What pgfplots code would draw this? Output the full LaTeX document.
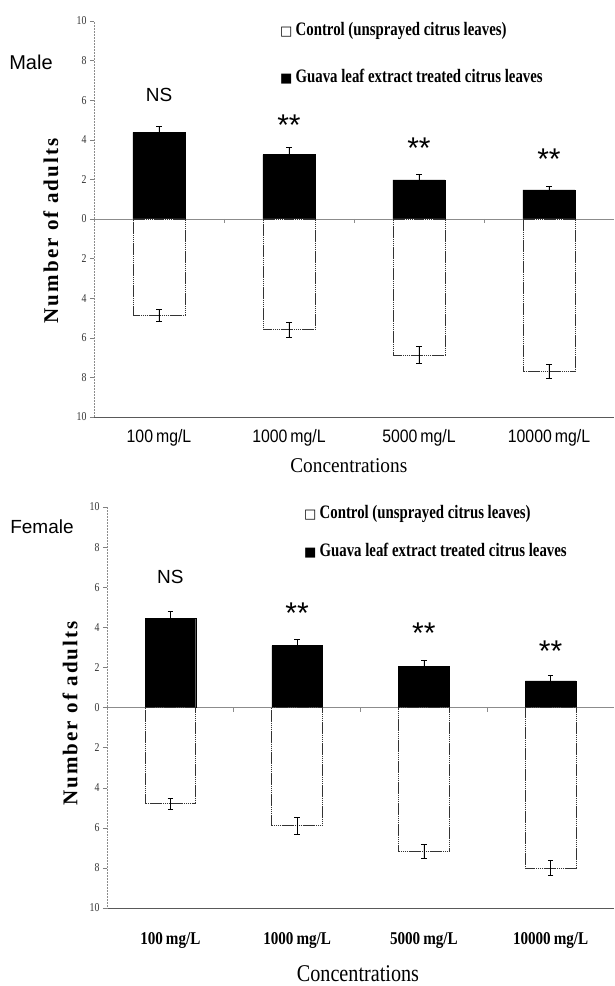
\documentclass[border=0pt]{standalone}
\usepackage{pgfplots}
\pgfplotsset{compat=1.18}
\usepackage{fontspec}
\setmainfont{Liberation Serif}
\newfontfamily\sansf{Liberation Sans}
\newfontfamily\sansc{Liberation Sans}[FakeStretch=0.88]
\newfontfamily\legf{Liberation Serif}[FakeStretch=0.78]
\newfontfamily\tickf{Liberation Serif}[FakeStretch=0.82]
\newfontfamily\labf{Liberation Serif}[FakeStretch=0.92]
\newfontfamily\labfb{Liberation Serif}[FakeStretch=0.84]
\newfontfamily\ylabf{Liberation Serif}[LetterSpace=10]
\newfontfamily\dejavu{DejaVu Sans}

% male (top) and female (bottom): mean number of adults, error
\pgfplotstableread{
x treated terr control cerr
0 4.37 0.29 -4.86 0.29
1 3.25 0.36 -5.60 0.40
2 1.98 0.30 -6.87 0.42
3 1.47 0.17 -7.70 0.36
}\male
\pgfplotstableread{
x treated terr control cerr
0 4.45 0.35 -4.80 0.26
1 3.09 0.30 -5.90 0.42
2 2.05 0.31 -7.17 0.33
3 1.33 0.28 -8.00 0.37
}\female

\tikzset{zeroline/.style={draw=black!45, line width=0.7pt}}
\pgfplotsset{
  panel/.style={
    scale only axis, anchor=south west,
    xmin=-0.5, xmax=3.5, ymin=-10, ymax=10,
    axis x line*=bottom, axis y line*=left,
    x axis line style={draw=black!65, line width=0.8pt, -},
    y axis line style={draw=black!45, line width=0.5pt, densely dotted, -},
    ytick={-10,-8,...,10},
    yticklabels={10,8,6,4,2,0,2,4,6,8,10},
    ytick align=outside, ytick style={draw=black!50, line width=0.4pt},
    major tick length=4pt,
    yticklabel style={font=\tickf\fontsize{12}{12}\selectfont, text=black!80},
    xtick={0,1,2,3}, xtick style={draw=none},
  },
  treated/.style={ybar, bar width=0.4, bar shift=0pt, fill=black, draw=black,
    error bars/.cd, y dir=plus, y explicit,
    error bar style={black, line width=0.7pt},
    error mark options={rotate=90, black, mark size=2.8pt, line width=0.7pt}},
  control/.style={ybar, bar width=0.4, bar shift=0pt, fill=white, draw=black!80,
    line width=0.8pt, dash pattern=on 1.6pt off 0.5pt,
    error bars/.cd, y dir=both, y explicit,
    error bar style={black, solid, line width=0.7pt},
    error mark options={rotate=90, black, solid, mark size=2.8pt, line width=0.7pt}},
}
\newcommand\catticks{%
  \draw[zeroline] (axis cs:-0.5,0) -- (axis cs:3.5,0);
  \draw[zeroline] (axis cs:0.5,0) -- ([yshift=-4pt]axis cs:0.5,0);
  \draw[zeroline] (axis cs:1.5,0) -- ([yshift=-4pt]axis cs:1.5,0);
  \draw[zeroline] (axis cs:2.5,0) -- ([yshift=-4pt]axis cs:2.5,0);
}
\newcommand\legendlines[2]{%
  \node[anchor=west, inner sep=0pt, font=\legf\bfseries\fontsize{19}{19}\selectfont] at (#1,#2) {{\dejavu\fontsize{13}{13}\selectfont □}\,Control (unsprayed citrus leaves)};
}

\begin{document}
\begin{tikzpicture}
\useasboundingbox (0,0) rectangle (614pt,986pt);

\begin{axis}[panel, at={(94pt,569pt)}, width=520pt, height=396pt,
  xticklabels={100\,mg/L, 1000\,mg/L, 5000\,mg/L, 10000\,mg/L},
  xticklabel style={font=\sansc\fontsize{18}{18}\selectfont, anchor=center, yshift=-21pt},
  xlabel={Concentrations},
  xlabel style={font=\labf\fontsize{21}{21}\selectfont, at={(axis description cs:0.49,-0.124)}, anchor=center},
  ylabel={\bfseries Number of adults},
  ylabel style={font=\ylabf\fontsize{21}{21}\selectfont, at={(axis description cs:-0.083,0.47)}, anchor=center},
]
\catticks
\addplot[treated] table[x=x, y=treated, y error=terr] {\male};
\addplot[control] table[x=x, y=control, y error=cerr] {\male};
\node[font=\sansf\fontsize{19}{19}\selectfont] at (axis cs:0,6.25) {NS};
\node[font=\sansf\fontsize{30}{30}\selectfont] at (axis cs:1,4.75) {**};
\node[font=\sansf\fontsize{30}{30}\selectfont] at (axis cs:2,3.6) {**};
\node[font=\sansf\fontsize{30}{30}\selectfont] at (axis cs:3,3.0) {**};
\end{axis}

\node[font=\sansf\fontsize{20}{20}\selectfont] at (31pt,924pt) {Male};
\legendlines{280pt}{955pt}
\node[anchor=west, inner sep=0pt, font=\legf\bfseries\fontsize{19}{19}\selectfont] at (280pt,909pt) {{\dejavu\fontsize{13}{13}\selectfont ■}\,Guava leaf extract treated citrus leaves};

\begin{axis}[panel, at={(107pt,78pt)}, width=507pt, height=401pt,
  xticklabels={100\,mg/L, 1000\,mg/L, 5000\,mg/L, 10000\,mg/L},
  xticklabel style={font=\labfb\bfseries\fontsize{18}{18}\selectfont, anchor=center, yshift=-32pt},
  xlabel={Concentrations},
  xlabel style={font=\labfb\fontsize{24}{24}\selectfont, at={(axis description cs:0.495,-0.165)}, anchor=center},
  ylabel={\bfseries Number of adults},
  ylabel style={font=\ylabf\fontsize{21}{21}\selectfont, at={(axis description cs:-0.073,0.485)}, anchor=center},
]
\catticks
\addplot[treated] table[x=x, y=treated, y error=terr] {\female};
\addplot[control] table[x=x, y=control, y error=cerr] {\female};
\node[font=\sansf\fontsize{19}{19}\selectfont] at (axis cs:0,6.5) {NS};
\node[font=\sansf\fontsize{30}{30}\selectfont] at (axis cs:1,4.7) {**};
\node[font=\sansf\fontsize{30}{30}\selectfont] at (axis cs:2,3.7) {**};
\node[font=\sansf\fontsize{30}{30}\selectfont] at (axis cs:3,2.8) {**};
\end{axis}

\node[font=\sansf\fontsize{19}{19}\selectfont] at (42pt,459pt) {Female};
\legendlines{304pt}{472pt}
\node[anchor=west, inner sep=0pt, font=\legf\bfseries\fontsize{19}{19}\selectfont] at (304pt,435pt) {{\dejavu\fontsize{13}{13}\selectfont ■}\,Guava leaf extract treated citrus leaves};
\end{tikzpicture}
\end{document}
